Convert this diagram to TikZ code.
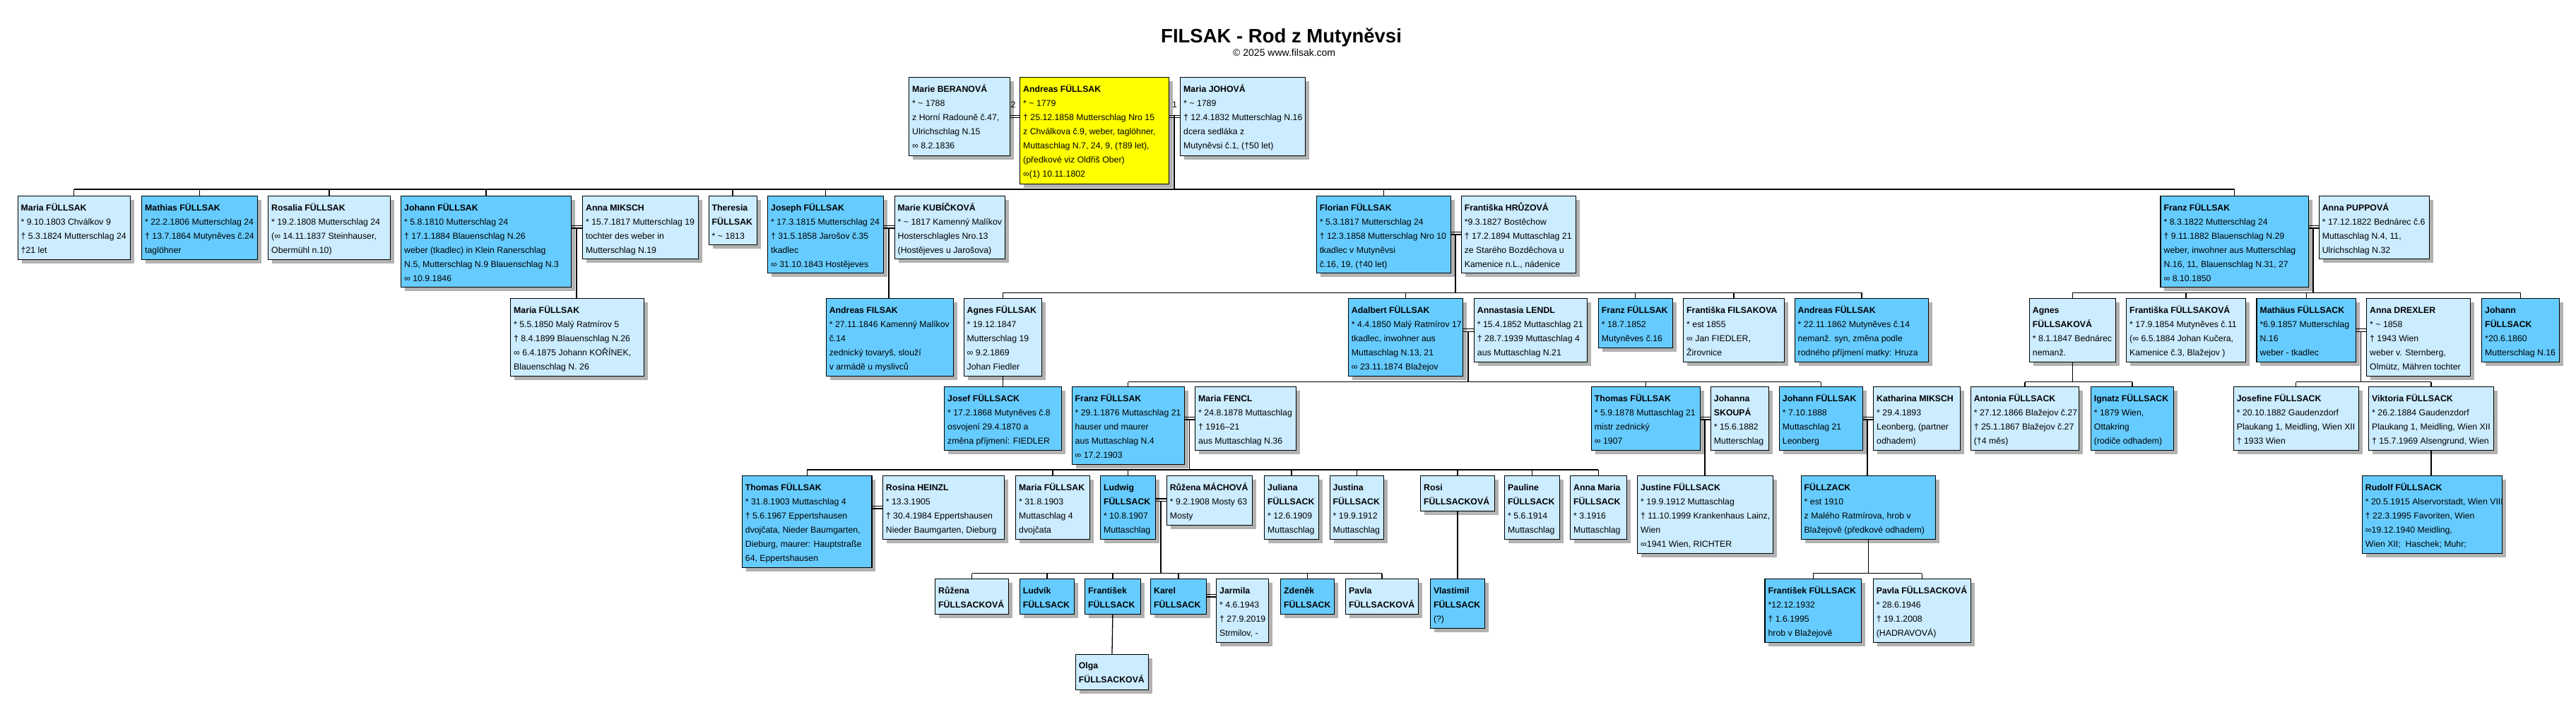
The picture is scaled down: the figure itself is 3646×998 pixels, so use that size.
\documentclass[tikz,border=0pt]{standalone}
\usepackage{fontspec}
\setmainfont{Liberation Sans}
\usetikzlibrary{calc}
\definecolor{dkblue}{RGB}{102,204,255}
\definecolor{ltblue}{RGB}{204,236,255}
\definecolor{yel}{RGB}{255,255,0}
\definecolor{shadowgray}{RGB}{178,178,178}
\tikzset{
 person/.style={draw=black, line width=1.2pt, inner sep=0pt},
 pshadow/.style={fill=shadowgray, draw=none},
 ptext/.style={anchor=north west, inner sep=0pt, align=left, font=\fontsize{12.3}{20}\selectfont, text=black},
 conn/.style={line width=1.3pt, draw=black},
 wed/.style={line width=1.1pt, draw=black},
}
\newcommand\PersonBox[7]{%
  \path[pshadow] (#2+6,#3+6) rectangle (#4+6,#5+6);
  \node[person, fill=#6, minimum width={#4pt-#2pt}, minimum height={#5pt-#3pt}, anchor=north west] (#1) at (#2,#3) {};
  \node[ptext] (#1t) at ([xshift=5pt,yshift=-8pt]#1.north west) {\rule{0pt}{13pt}#7};
}
\newcommand\Wed[5]{%
  \coordinate (#1) at (#4,#5);
  \coordinate (#1b) at (#4,#5+3.5);
  \draw[wed] (#2.east |- #1) -- (#3.west |- #1);
  \draw[wed] (#2.east |- #1b) -- (#3.west |- #1b);
}
\newcommand\tl{\textasciitilde}
\begin{document}
\begin{tikzpicture}[x=1pt,y=-1pt]
\useasboundingbox[fill=white] (0,0) rectangle (3646,998);

\node[font=\bfseries\fontsize{27.5}{32}\selectfont, anchor=base west, inner sep=0pt] (title) at (1643,60) {FILSAK - Rod z Mutyněvsi};
\node[font=\fontsize{14}{16}\selectfont, anchor=base west, inner sep=0pt] (subtitle) at (1745,80) {© 2025 www.filsak.com};

% generation 0
\PersonBox{beranova}{1286}{109}{1429}{220}{ltblue}{\textbf{Marie BERANOVÁ}\\* \tl{} 1788\\z Horní Radouně č.47,\\Ulrichschlag N.15\\∞ 8.2.1836}
\PersonBox{andreas0}{1443}{109}{1654}{260}{yel}{\textbf{Andreas FÜLLSAK}\\* \tl{} 1779\\† 25.12.1858 Mutterschlag Nro 15\\z Chválkova č.9, weber, taglöhner,\\Muttaschlag N.7, 24, 9, (†89 let),\\(předkové viz Oldřiš Ober)\\∞(1) 10.11.1802}
\PersonBox{johova}{1670}{109}{1847}{220}{ltblue}{\textbf{Maria JOHOVÁ}\\* \tl{} 1789\\† 12.4.1832 Mutterschlag N.16\\dcera sedláka z\\Mutyněvsi č.1, (†50 let)}

% generation 1
\PersonBox{maria1803}{24.5}{277}{183.5}{367}{ltblue}{\textbf{Maria FÜLLSAK}\\* 9.10.1803 Chválkov 9\\† 5.3.1824 Mutterschlag 24\\†21 let}
\PersonBox{mathias}{200}{277}{364}{367}{dkblue}{\textbf{Mathias FÜLLSAK}\\* 22.2.1806 Mutterschlag 24\\† 13.7.1864 Mutyněves č.24\\taglöhner}
\PersonBox{rosalia}{379}{277}{552}{367}{ltblue}{\textbf{Rosalia FÜLLSAK}\\* 19.2.1808 Mutterschlag 24\\(∞ 14.11.1837 Steinhauser,\\Obermühl n.10)}
\PersonBox{johann1810}{567}{277}{808}{406}{dkblue}{\textbf{Johann FÜLLSAK}\\* 5.8.1810 Mutterschlag 24\\† 17.1.1884 Blauenschlag N.26\\weber (tkadlec) in Klein Ranerschlag\\N.5, Mutterschlag N.9 Blauenschlag N.3\\∞ 10.9.1846}
\PersonBox{miksch}{824}{277}{987.5}{366}{ltblue}{\textbf{Anna MIKSCH}\\* 15.7.1817 Mutterschlag 19\\tochter des weber in\\Mutterschlag N.19}
\PersonBox{theresia}{1002.5}{277}{1070.5}{346}{ltblue}{\textbf{Theresia}\\\textbf{FÜLLSAK}\\* \tl{} 1813}
\PersonBox{joseph}{1086}{277}{1250}{386}{dkblue}{\textbf{Joseph FÜLLSAK}\\* 17.3.1815 Mutterschlag 24\\† 31.5.1858 Jarošov č.35\\tkadlec\\∞ 31.10.1843 Hostějeves}
\PersonBox{kubickova}{1265.5}{277}{1421.7}{366}{ltblue}{\textbf{Marie KUBÍČKOVÁ}\\* \tl{} 1817 Kamenný Malíkov\\Hosterschlagles Nro.13\\(Hostějeves u Jarošova)}
\PersonBox{florian}{1862.6}{277}{2052.5}{386}{dkblue}{\textbf{Florian FÜLLSAK}\\* 5.3.1817 Mutterschlag 24\\† 12.3.1858 Mutterschlag Nro 10\\tkadlec v Mutyněvsi\\č.16, 19, (†40 let)}
\PersonBox{hruzova}{2067.6}{277}{2229.7}{386}{ltblue}{\textbf{Františka HRŮZOVÁ}\\*9.3.1827 Bostěchow\\† 17.2.1894 Muttaschlag 21\\ze Starého Bozděchova u\\Kamenice n.L., nádenice}
\PersonBox{franz1822}{3057.4}{277}{3266.5}{406}{dkblue}{\textbf{Franz FÜLLSAK}\\* 8.3.1822 Mutterschlag 24\\† 9.11.1882 Blauenschlag N.29\\weber, inwohner aus Mutterschlag\\N.16, 11, Blauenschlag N.31, 27\\∞ 8.10.1850}
\PersonBox{puppova}{3281.6}{277}{3438}{366}{ltblue}{\textbf{Anna PUPPOVÁ}\\* 17.12.1822 Bednárec č.6\\Muttaschlag N.4, 11,\\Ulrichschlag N.32}

% generation 2
\PersonBox{maria1850}{722}{422}{911}{532}{ltblue}{\textbf{Maria FÜLLSAK}\\* 5.5.1850 Malý Ratmírov 5\\† 8.4.1899 Blauenschlag N.26\\∞ 6.4.1875 Johann KOŘÍNEK,\\Blauenschlag N. 26}
\PersonBox{andreasF}{1168.6}{422}{1348.5}{532}{dkblue}{\textbf{Andreas FILSAK}\\* 27.11.1846 Kamenný Malíkov\\č.14\\zednický tovaryš, slouží\\v armádě u myslivců}
\PersonBox{agnes1847}{1363.5}{422}{1474}{532}{ltblue}{\textbf{Agnes FÜLLSAK}\\* 19.12.1847\\Mutterschlag 19\\∞ 9.2.1869\\Johan Fiedler}
\PersonBox{adalbert}{1907.7}{422}{2070}{532}{dkblue}{\textbf{Adalbert FÜLLSAK}\\* 4.4.1850 Malý Ratmírov 17\\tkadlec, inwohner aus\\Muttaschlag N.13, 21\\∞ 23.11.1874 Blažejov}
\PersonBox{lendl}{2085.7}{422}{2245.6}{512}{ltblue}{\textbf{Annastasia LENDL}\\* 15.4.1852 Muttaschlag 21\\† 28.7.1939 Muttaschlag 4\\aus Muttaschlag N.21}
\PersonBox{franz1852}{2261.7}{422}{2366.7}{492}{dkblue}{\textbf{Franz FÜLLSAK}\\* 18.7.1852\\Mutyněves č.16}
\PersonBox{filsakova}{2382}{422}{2525}{512}{ltblue}{\textbf{Františka FILSAKOVA}\\* est 1855\\∞ Jan FIEDLER,\\Žirovnice}
\PersonBox{andreas1862}{2539.5}{422}{2729}{512}{dkblue}{\textbf{Andreas FÜLLSAK}\\* 22.11.1862 Mutyněves č.14\\nemanž. syn, změna podle\\rodného příjmení matky: Hruza}
\PersonBox{agnesK}{2871.7}{422}{2993.5}{512}{ltblue}{\textbf{Agnes}\\\textbf{FÜLLSAKOVÁ}\\* 8.1.1847 Bednárec\\nemanž.}
\PersonBox{frantiska1854}{3009}{422}{3178}{512}{ltblue}{\textbf{Františka FÜLLSAKOVÁ}\\* 17.9.1854 Mutyněves č.11\\(∞ 6.5.1884 Johan Kučera,\\Kamenice č.3, Blažejov )}
\PersonBox{mathaus}{3193.4}{422}{3333.7}{512}{dkblue}{\textbf{Mathäus FÜLLSACK}\\*6.9.1857 Mutterschlag\\N.16\\weber - tkadlec}
\PersonBox{drexler}{3349}{422}{3496}{532}{ltblue}{\textbf{Anna DREXLER}\\* \tl{} 1858\\† 1943 Wien\\weber v. Sternberg,\\Olmütz, Mähren tochter}
\PersonBox{johann1860}{3512}{422}{3622}{512}{dkblue}{\textbf{Johann}\\\textbf{FÜLLSACK}\\*20.6.1860\\Mutterschlag N.16}

% generation 3
\PersonBox{josef1868}{1336}{547}{1501.5}{637}{dkblue}{\textbf{Josef FÜLLSACK}\\* 17.2.1868 Mutyněves č.8\\osvojení 29.4.1870 a\\změna příjmení: FIEDLER}
\PersonBox{franz1876}{1516.5}{547}{1675.6}{657}{dkblue}{\textbf{Franz FÜLLSAK}\\* 29.1.1876 Muttaschlag 21\\hauser und maurer\\aus Muttaschlag N.4\\∞ 17.2.1903}
\PersonBox{fencl}{1691}{547}{1833.5}{637}{ltblue}{\textbf{Maria FENCL}\\* 24.8.1878 Muttaschlag\\† 1916–21\\aus Muttaschlag N.36}
\PersonBox{thomas1878}{2251.7}{547}{2405.7}{637}{dkblue}{\textbf{Thomas FÜLLSAK}\\* 5.9.1878 Muttaschlag 21\\mistr zednický\\∞ 1907}
\PersonBox{skoupa}{2420.7}{547}{2502.7}{637}{ltblue}{\textbf{Johanna}\\\textbf{SKOUPÁ}\\* 15.6.1882\\Mutterschlag}
\PersonBox{johann1888}{2517.7}{547}{2635.7}{637}{dkblue}{\textbf{Johann FÜLLSAK}\\* 7.10.1888\\Muttaschlag 21\\Leonberg}
\PersonBox{katharina}{2651}{547}{2773.6}{637}{ltblue}{\textbf{Katharina MIKSCH}\\* 29.4.1893\\Leonberg, (partner\\odhadem)}
\PersonBox{antonia}{2788.6}{547}{2942}{637}{ltblue}{\textbf{Antonia FÜLLSACK}\\* 27.12.1866 Blažejov č.27\\† 25.1.1867 Blažejov č.27\\(†4 měs)}
\PersonBox{ignatz}{2958.7}{547}{3076}{637}{dkblue}{\textbf{Ignatz FÜLLSACK}\\* 1879 Wien,\\Ottakring\\(rodiče odhadem)}
\PersonBox{josefine}{3160.6}{547}{3337.6}{637}{ltblue}{\textbf{Josefine FÜLLSACK}\\* 20.10.1882 Gaudenzdorf\\Plaukang 1, Meidling, Wien XII\\† 1933 Wien}
\PersonBox{viktoria}{3352}{547}{3529}{637}{ltblue}{\textbf{Viktoria FÜLLSACK}\\* 26.2.1884 Gaudenzdorf\\Plaukang 1, Meidling, Wien XII\\† 15.7.1969 Alsengrund, Wien}

% generation 4
\PersonBox{thomas1903}{1049.7}{673}{1233.4}{803}{dkblue}{\textbf{Thomas FÜLLSAK}\\* 31.8.1903 Muttaschlag 4\\† 5.6.1967 Eppertshausen\\dvojčata, Nieder Baumgarten,\\Dieburg, maurer: Hauptstraße\\64, Eppertshausen}
\PersonBox{heinzl}{1248.7}{673}{1421}{763}{ltblue}{\textbf{Rosina HEINZL}\\* 13.3.1905\\† 30.4.1984 Eppertshausen\\Nieder Baumgarten, Dieburg}
\PersonBox{maria1903}{1437}{673}{1542}{763}{ltblue}{\textbf{Maria FÜLLSAK}\\* 31.8.1903\\Muttaschlag 4\\dvojčata}
\PersonBox{ludwig}{1556.8}{673}{1635}{763}{dkblue}{\textbf{Ludwig}\\\textbf{FÜLLSACK}\\* 10.8.1907\\Muttaschlag}
\PersonBox{machova}{1650.6}{673}{1771.7}{743}{ltblue}{\textbf{Růžena MÁCHOVÁ}\\* 9.2.1908 Mosty 63\\Mosty}
\PersonBox{juliana}{1789}{673}{1865.5}{763}{ltblue}{\textbf{Juliana}\\\textbf{FÜLLSACK}\\* 12.6.1909\\Muttaschlag}
\PersonBox{justina}{1881.5}{673}{1958}{763}{ltblue}{\textbf{Justina}\\\textbf{FÜLLSACK}\\* 19.9.1912\\Muttaschlag}
\PersonBox{rosi}{2010}{673}{2114.7}{723}{ltblue}{\textbf{Rosi}\\\textbf{FÜLLSACKOVÁ}}
\PersonBox{pauline}{2129}{673}{2207}{763}{ltblue}{\textbf{Pauline}\\\textbf{FÜLLSACK}\\* 5.6.1914\\Muttaschlag}
\PersonBox{annamaria}{2222}{673}{2301.6}{763}{ltblue}{\textbf{Anna Maria}\\\textbf{FÜLLSACK}\\* 3.1916\\Muttaschlag}
\PersonBox{justine}{2317}{673}{2509}{783}{ltblue}{\textbf{Justine FÜLLSACK}\\* 19.9.1912 Muttaschlag\\† 11.10.1999 Krankenhaus Lainz,\\Wien\\∞1941 Wien, RICHTER}
\PersonBox{fullzack}{2548.5}{673}{2739}{763}{dkblue}{\textbf{FÜLLZACK}\\* est 1910\\z Malého Ratmírova, hrob v\\Blažejově (předkové odhadem)}
\PersonBox{rudolf}{3342.7}{673}{3540.7}{783}{dkblue}{\textbf{Rudolf FÜLLSACK}\\* 20.5.1915 Alservorstadt, Wien VIII\\† 22.3.1995 Favoriten, Wien\\∞19.12.1940 Meidling,\\Wien XII;\ \ Haschek; Muhr;}

% generation 5
\PersonBox{ruzenaF}{1323}{819}{1427}{869}{ltblue}{\textbf{Růžena}\\\textbf{FÜLLSACKOVÁ}}
\PersonBox{ludvik}{1442.6}{819}{1520}{869}{dkblue}{\textbf{Ludvík}\\\textbf{FÜLLSACK}}
\PersonBox{frantisek}{1535}{819}{1613.6}{869}{dkblue}{\textbf{František}\\\textbf{FÜLLSACK}}
\PersonBox{karel}{1628}{819}{1706.7}{869}{dkblue}{\textbf{Karel}\\\textbf{FÜLLSACK}}
\PersonBox{jarmila}{1721}{819}{1795}{909}{ltblue}{\textbf{Jarmila}\\* 4.6.1943\\† 27.9.2019\\Strmilov, -}
\PersonBox{zdenek}{1812}{819}{1888}{869}{dkblue}{\textbf{Zdeněk}\\\textbf{FÜLLSACK}}
\PersonBox{pavla}{1904}{819}{2007}{869}{ltblue}{\textbf{Pavla}\\\textbf{FÜLLSACKOVÁ}}
\PersonBox{vlastimil}{2023.8}{819}{2101}{889}{dkblue}{\textbf{Vlastimil}\\\textbf{FÜLLSACK}\\(?)}
\PersonBox{frantisek1932}{2497.4}{819}{2634}{909}{dkblue}{\textbf{František FÜLLSACK}\\*12.12.1932\\† 1.6.1995\\hrob v Blažejově}
\PersonBox{pavla1946}{2650.6}{819}{2789}{909}{ltblue}{\textbf{Pavla FÜLLSACKOVÁ}\\* 28.6.1946\\† 19.1.2008\\(HADRAVOVÁ)}

% generation 6
\PersonBox{olga}{1521.7}{925.7}{1625}{975.7}{ltblue}{\textbf{Olga}\\\textbf{FÜLLSACKOVÁ}}

% marriages
\Wed{m0a}{beranova}{andreas0}{1436}{163.3}
\Wed{m0b}{andreas0}{johova}{1662}{163.3}
\node[font=\fontsize{12.3}{14}\selectfont, inner sep=0pt] (num2) at (1434,148.5) {2};
\node[font=\fontsize{12.3}{14}\selectfont, inner sep=0pt] (num1) at (1662.5,148.5) {1};
\Wed{m1}{johann1810}{miksch}{816}{319.5}
\Wed{m2}{joseph}{kubickova}{1258}{319.5}
\Wed{m3}{florian}{hruzova}{2060}{328.5}
\Wed{m4}{franz1822}{puppova}{3274}{319.5}
\Wed{m5}{adalbert}{lendl}{2078}{465.8}
\Wed{m6}{mathaus}{drexler}{3341.5}{465.8}
\Wed{m7}{franz1876}{fencl}{1683.5}{590.5}
\Wed{m8}{thomas1878}{skoupa}{2413}{590.5}
\Wed{m9}{johann1888}{katharina}{2643}{590.5}
\Wed{m10}{thomas1903}{heinzl}{1241}{716.5}
\Wed{m11}{ludwig}{machova}{1643}{706}
\Wed{m12}{karel}{jarmila}{1714}{841.5}

% sibling bars
\coordinate (b0) at (0,268);
\coordinate (b1) at (0,414.3);
\coordinate (b2) at (0,414.3);
\coordinate (b3) at (0,540.7);
\coordinate (b4) at (0,540.7);
\coordinate (b5) at (0,540.7);
\coordinate (b6) at (0,665);
\coordinate (b7) at (0,811.7);
\coordinate (b8) at (0,811.7);

\draw[conn] (maria1803.north |- b0) -- (franz1822.north |- b0);
\foreach \c in {maria1803,mathias,rosalia,johann1810,theresia,joseph,florian,franz1822}
  \draw[conn] (\c.north) -- (\c.north |- b0);
\draw[conn] (m0b) -- (m0b |- b0);

\draw[conn] (m1b) -- (m1b |- maria1850.north);
\draw[conn] (m2b) -- (m2b |- andreasF.north);

\draw[conn] (agnes1847.north |- b1) -- (andreas1862.north |- b1);
\foreach \c in {agnes1847,adalbert,franz1852,filsakova,andreas1862}
  \draw[conn] (\c.north) -- (\c.north |- b1);
\draw[conn] (m3b) -- (m3b |- b1);

\draw[conn] (agnesK.north |- b2) -- (johann1860.north |- b2);
\foreach \c in {agnesK,frantiska1854,mathaus,johann1860}
  \draw[conn] (\c.north) -- (\c.north |- b2);
\draw[conn] (m4b) -- (m4b |- b2);

\draw[conn] (agnes1847.south) -- (josef1868.north);

\draw[conn] (franz1876.north |- b3) -- (johann1888.north |- b3);
\foreach \c in {franz1876,thomas1878,johann1888}
  \draw[conn] (\c.north) -- (\c.north |- b3);
\draw[conn] (m5b) -- (m5b |- b3);

\draw[conn] (antonia.north |- b4) -- (ignatz.north |- b4);
\foreach \c in {antonia,ignatz}
  \draw[conn] (\c.north) -- (\c.north |- b4);
\draw[conn] (agnesK.south) -- (agnesK.south |- b4);

\draw[conn] (josefine.north |- b5) -- (viktoria.north |- b5);
\foreach \c in {josefine,viktoria}
  \draw[conn] (\c.north) -- (\c.north |- b5);
\draw[conn] (m6b) -- (m6b |- b5);

\draw[conn] (thomas1903.north |- b6) -- (annamaria.north |- b6);
\foreach \c in {thomas1903,maria1903,ludwig,juliana,justina,rosi,pauline,annamaria}
  \draw[conn] (\c.north) -- (\c.north |- b6);
\draw[conn] (m7b) -- (m7b |- b6);

\draw[conn] (m8b) -- (m8b |- justine.north);
\draw[conn] (m9b) -- (m9b |- fullzack.north);
\draw[conn] (viktoria.south) -- (viktoria.south |- rudolf.north);

\draw[conn] (ruzenaF.north |- b7) -- (pavla.north |- b7);
\foreach \c in {ruzenaF,ludvik,frantisek,karel,zdenek,pavla}
  \draw[conn] (\c.north) -- (\c.north |- b7);
\draw[conn] (m11b) -- (m11b |- b7);

\draw[conn] (frantisek.south) -- (olga.north);
\draw[conn] (rosi.south) -- (rosi.south |- vlastimil.north);

\draw[conn] (frantisek1932.north |- b8) -- (pavla1946.north |- b8);
\foreach \c in {frantisek1932,pavla1946}
  \draw[conn] (\c.north) -- (\c.north |- b8);
\draw[conn] (fullzack.south) -- (fullzack.south |- b8);
\end{tikzpicture}
\end{document}
